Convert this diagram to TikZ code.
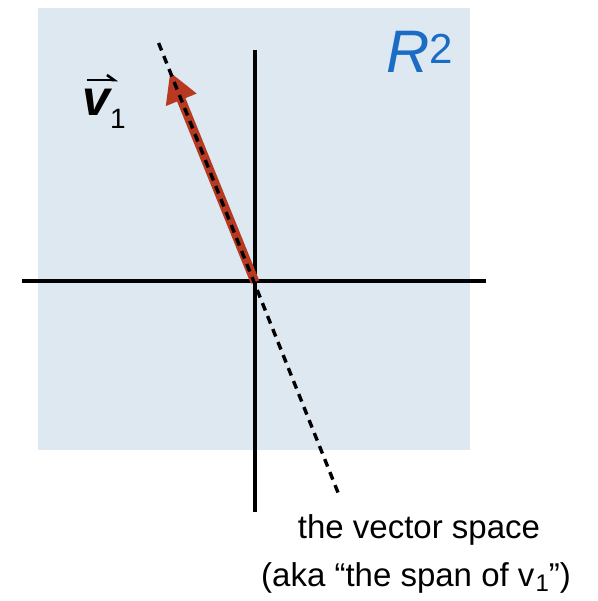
\documentclass[tikz,border=0pt]{standalone}
\usepackage{fontspec}
\setmainfont{Liberation Sans}
\usetikzlibrary{arrows.meta}
\definecolor{planebg}{RGB}{221,232,241}
\definecolor{vecred}{RGB}{183,57,33}
\definecolor{rblue}{RGB}{26,108,196}
\tikzset{
  axisline/.style={line width=3.2pt,black},
  spanline/.style={line width=3.4pt,black,dash pattern=on 8pt off 6pt},
  vecarrow/.style={line width=9pt,vecred,-{Triangle[length=30pt,width=31pt]}},
  caption/.style={font=\fontsize{33}{40}\selectfont,inner sep=0pt},
  accentarrow/.style={line width=2.6pt,black,-{Straight Barb[left,length=7pt,width=10pt]}}
}
\begin{document}
\begin{tikzpicture}[x=1pt,y=-1pt]
\useasboundingbox (0,0) rectangle (597,601);
\fill[planebg] (38,8) rectangle (470,450);
\coordinate (O) at (255,282);
\coordinate (T) at (170,72);
\coordinate (xl) at (22,281);
\coordinate (xr) at (486,281);
\coordinate (yt) at (255,50);
\coordinate (yb) at (255,512);
\coordinate (s1) at (158.6,43);
\coordinate (s2) at (339,495);
\draw[axisline] (xl) -- (xr);
\draw[axisline] (yt) -- (yb);
\draw[vecarrow] (O) -- (T);
\draw[spanline] (s1) -- (s2);
\node[inner sep=0pt,text=rblue,font=\fontsize{60}{60}\selectfont\itshape] (R) at (420,52) {R\textsuperscript{\upshape 2}};
\node[inner sep=0pt,anchor=base west,font=\fontsize{50}{50}\selectfont\bfseries\itshape] (v) at (82,116) {v\raisebox{-13pt}{\fontsize{28}{28}\selectfont\mdseries\upshape 1}};
\coordinate (a1) at (87,80);
\coordinate (a2) at (118,80);
\draw[accentarrow] (a1) -- (a2);
\node[caption] (c1) at (419,530) {the vector space};
\node[caption] (c2) at (416,578) {(aka “the span of v\kern1pt\raisebox{-5pt}{\fontsize{24}{24}\selectfont 1}”)};
\end{tikzpicture}
\end{document}
